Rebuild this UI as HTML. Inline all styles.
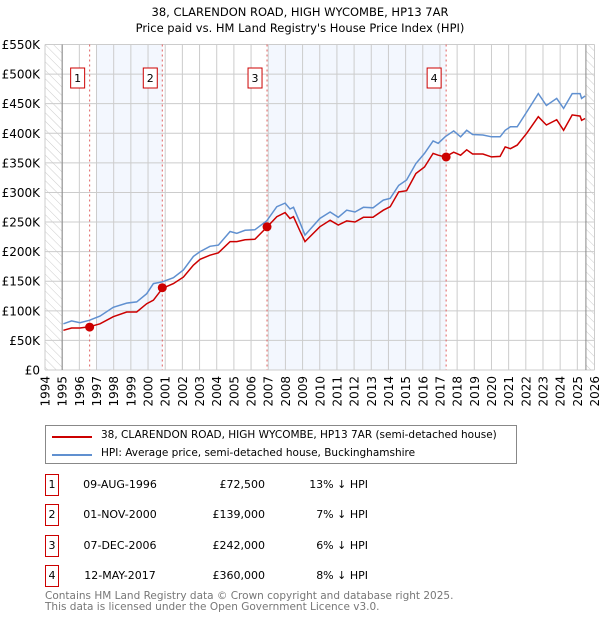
<!DOCTYPE html>
<html><head><meta charset="utf-8"><style>
body{margin:0;background:#fff;font-family:"DejaVu Sans","Liberation Sans",sans-serif;}
#wrap{position:relative;width:600px;height:620px;overflow:hidden;}
.t{position:absolute;font-size:11px;color:#000;white-space:nowrap;}
</style></head><body><div id="wrap">
<svg id="chart" width="600" height="620" style="position:absolute;left:0;top:0" font-family="DejaVu Sans, Liberation Sans, sans-serif">
<defs><pattern id="hatch" width="6" height="6" patternUnits="userSpaceOnUse" patternTransform="rotate(-45)"><line x1="0" y1="0" x2="0" y2="6" stroke="#ccc" stroke-width="1"/></pattern></defs>
<text x="300" y="16" text-anchor="middle" font-size="11.5">38, CLARENDON ROAD, HIGH WYCOMBE, HP13 7AR</text>
<text x="300" y="32" text-anchor="middle" font-size="11.5">Price paid vs. HM Land Registry's House Price Index (HPI)</text>
<g id="plot"></g>
</svg>
<div style="position:absolute;left:45px;top:425px;width:470px;height:37px;border:1px solid #888;">
 <div style="position:absolute;left:6px;top:10px;width:40px;height:2px;background:#cc0000"></div>
 <div class="t" style="left:55px;top:3px;font-size:10.5px">38, CLARENDON ROAD, HIGH WYCOMBE, HP13 7AR (semi-detached house)</div>
 <div style="position:absolute;left:6px;top:28px;width:40px;height:2px;background:#6090d0"></div>
 <div class="t" style="left:55px;top:21px;font-size:10.5px">HPI: Average price, semi-detached house, Buckinghamshire</div>
</div>
<div id="table"></div>
<div class="t" style="left:45px;top:590px;color:#777;font-size:10.5px">Contains HM Land Registry data © Crown copyright and database right 2025.</div>
<div class="t" style="left:45px;top:601px;color:#777;font-size:10.5px">This data is licensed under the Open Government Licence v3.0.</div>
</div>
<script>
const hpiYears=[1995.07,1995.55,1996.04,1996.58,1997.2,1997.98,1998.76,1999.34,1999.92,2000.31,2000.84,2001.48,2002.06,2002.64,2003.03,2003.61,2004.1,2004.78,2005.17,2005.65,2006.23,2006.91,2007.5,2007.98,2008.27,2008.47,2008.86,2009.14,2010.0,2010.6,2011.08,2011.57,2012.05,2012.54,2013.1,2013.7,2014.1,2014.6,2015.06,2015.6,2016.1,2016.6,2016.9,2017.3,2017.8,2018.2,2018.56,2018.9,2019.5,2020.0,2020.5,2020.8,2021.1,2021.5,2022.05,2022.73,2023.2,2023.8,2024.2,2024.7,2025.16,2025.25,2025.45];
const hpiValues=[78,83,80,84,91,106,113,115,129,146,149,156,169,192,200,209,211,234,231,236,237,252,276,282,272,275,248,228,256,267,258,270,267,275,274,287,290,312,321,349,366,387,383,394,404,394,405,398,397,394,394,405,411,411,436,467,447,459,442,467,467,459,463];
const priceValues=[67,71,71,73,78,90,98,98,112,118,138,146,157,177,187,194,198,217,217,220,221,241,259,266,256,259,234,217,242,253,245,252,250,258,258,270,276,301,303,332,343,366,363,360,368,363,372,365,365,360,361,377,374,380,400,428,414,423,405,431,429,422,425];
const saleYears=[1996.6,2000.83,2006.93,2017.36];
const salePrices=[72.5,139,242,360];
const saleLabels=["1","2","3","4"];
const saleDates=["09-AUG-1996","01-NOV-2000","07-DEC-2006","12-MAY-2017"];
const saleText=["£72,500","£139,000","£242,000","£360,000"];
const saleDiff=["13% ↓ HPI","7% ↓ HPI","6% ↓ HPI","8% ↓ HPI"];
const yTicks=[0,50,100,150,200,250,300,350,400,450,500,550];
const yTickLabels=["£0","£50K","£100K","£150K","£200K","£250K","£300K","£350K","£400K","£450K","£500K","£550K"];
const xYears=[1994,1995,1996,1997,1998,1999,2000,2001,2002,2003,2004,2005,2006,2007,2008,2009,2010,2011,2012,2013,2014,2015,2016,2017,2018,2019,2020,2021,2022,2023,2024,2025,2026];

const X0=45,X1=594.5,Y0=370,Y1=44.5;
const xs=y=>X0+(y-1994)/(2026-1994)*(X1-X0);
const ys=v=>Y0-v/550*(Y0-Y1);
const NS="http://www.w3.org/2000/svg";
const g=document.getElementById('plot');
function mk(tag,attrs,parent){const e=document.createElementNS(NS,tag);for(const k in attrs)e.setAttribute(k,attrs[k]);(parent||g).appendChild(e);return e;}
let b=mk('rect',{x:xs(1997),y:Y1,width:xs(saleYears[1])-xs(1997),height:Y0-Y1,fill:'#eef3fd',opacity:0.7});


b=mk('rect',{x:xs(2007),y:Y1,width:xs(saleYears[3])-xs(2007),height:Y0-Y1,fill:'#eef3fd',opacity:0.7});


b=mk('rect',{x:X0,y:Y1,width:xs(1995)-X0,height:Y0-Y1,fill:'url(#hatch)'});


b=mk('rect',{x:xs(2025.5),y:Y1,width:X1-xs(2025.5),height:Y0-Y1,fill:'url(#hatch)'});


yTicks.forEach((v,i)=>{
 const l=mk('line',{x1:X0,x2:X1,y1:ys(v),y2:ys(v),stroke:'#ccc','stroke-width':1});
 
 
 const t=mk('text',{x:40,y:ys(v)+4.5,'text-anchor':'end','font-size':12});
 
 
 t.textContent=yTickLabels[i];
});
xYears.forEach(yr=>{
 const l=mk('line',{x1:xs(yr),x2:xs(yr),y1:Y1,y2:Y0,stroke:'#ccc','stroke-width':1});
 
 
 const t=mk('text',{x:0,y:0,'text-anchor':'end','font-size':12,transform:`translate(${xs(yr)+4.5},${Y0+6}) rotate(-90)`});
 
 
 t.textContent=yr;
});
b=mk('line',{x1:xs(1995),x2:xs(1995),y1:Y1,y2:Y0,stroke:'#888'});


b=mk('line',{x1:xs(2025.5),x2:xs(2025.5),y1:Y1,y2:Y0,stroke:'#888'});


saleYears.forEach((yr,i)=>{
 const l=mk('line',{x1:xs(yr),x2:xs(yr),y1:Y1,y2:Y0,stroke:'#e06060','stroke-dasharray':'2,3','stroke-width':1});
 
 
 const r=mk('rect',{x:xs(yr)-19,y:68,width:14,height:20,fill:'#fff',stroke:'#cc0000'});
 
 
 const t=mk('text',{x:xs(yr)-12,y:82,'text-anchor':'middle','font-size':11});
 
 
 t.textContent=saleLabels[i];
});
function line(vals,color,name){
 const d=hpiYears.map((yr,i)=>(i?'L':'M')+xs(yr).toFixed(1)+','+ys(vals[i]).toFixed(1)).join(' ');
 const p=mk('path',{d:d,fill:'none',stroke:color,'stroke-width':1.5});
 
 
}
line(hpiValues,'#6090d0','hpi-line');
line(priceValues,'#cc0000','price-paid-line');
saleYears.forEach((yr,i)=>{
 const c=mk('circle',{cx:xs(yr),cy:ys(salePrices[i]),r:4.5,fill:'#cc0000'});
 
 
});
const tb=document.getElementById('table');
const rowY=[474,504,535,565];
saleDates.forEach((d,i)=>{
 const row=document.createElement('div');
 
 
 row.style.cssText=`position:absolute;left:0;top:${rowY[i]}px;width:600px;height:22px;`;
 row.innerHTML=`<div style="position:absolute;left:45px;top:0;width:12px;height:20px;border:1px solid #cc0000;font-size:11px;text-align:center;line-height:20px">${saleLabels[i]}</div>
 <div class="t" style="left:80px;width:80px;top:4px;text-align:center">${d}</div>
 <div class="t" style="left:185px;width:80px;top:4px;text-align:right">${saleText[i]}</div>
 <div class="t" style="left:290px;width:78px;top:4px;text-align:right">${saleDiff[i]}</div>`;
 tb.appendChild(row);
});
</script></body></html>
